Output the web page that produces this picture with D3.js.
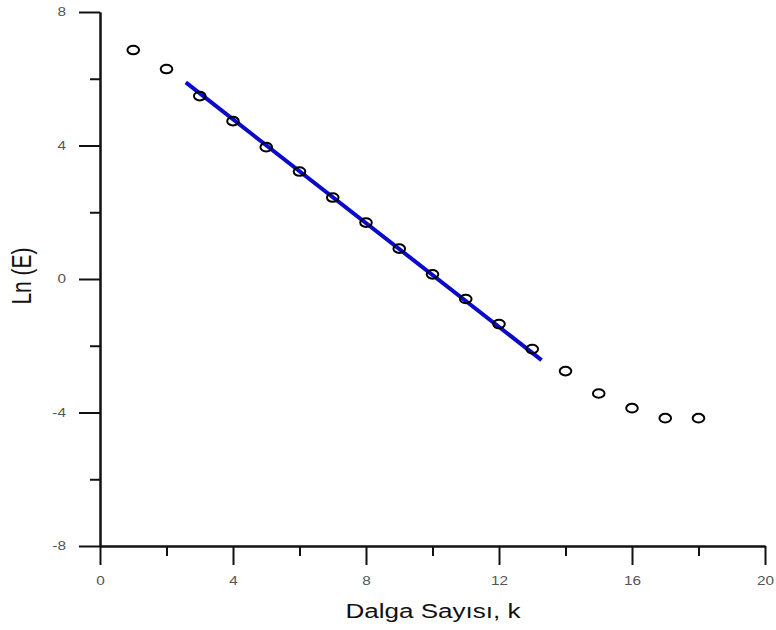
<!DOCTYPE html>
<html>
<head>
<meta charset="utf-8">
<script src="https://cdn.jsdelivr.net/npm/d3@7"></script>
<style>
  html, body { margin: 0; padding: 0; background: #fff; }
  svg { display: block; font-family: "Liberation Sans", Arial, sans-serif; }
</style>
</head>
<body>
<svg id="chart" width="776" height="630"></svg>
<script>
// Wave number and ln(energy) measurements
const waveNumbers = [1, 2, 3, 4, 5, 6, 7, 8, 9, 10, 11, 12, 13, 14, 15, 16, 17, 18];
const lnEnergy = [6.86, 6.29, 5.48, 4.73, 3.95, 3.22, 2.44, 1.69, 0.91, 0.14,
                  -0.60, -1.35, -2.10, -2.76, -3.43, -3.87, -4.17, -4.17];

// Straight-line fit across the inertial range
const fitK = [2.58, 13.28];
const fitLnE = [5.89, -2.43];

// Axis ticks
const xMajorTicks = [0, 4, 8, 12, 16, 20];
const xMinorTicks = [2, 6, 10, 14, 18];
const yMajorTicks = [-8, -4, 0, 4, 8];
const yMinorTicks = [-6, -2, 2, 6];

const svg = d3.select("#chart");

const x = d3.scaleLinear().domain([0, 20]).range([100, 765]);
const y = d3.scaleLinear().domain([-8, 8]).range([546, 12]);

const axisColor = "#111";
const textStretch = 1.28;        // wide-set lettering
const fmt = d => String(d);      // plain hyphen for negatives

// X axis
const gx = svg.append("g").attr("transform", `translate(0,${y(-8)})`);
gx.call(d3.axisBottom(x).tickValues(xMajorTicks).tickSize(19).tickSizeOuter(0).tickPadding(11).tickFormat(fmt));
gx.append("g").call(d3.axisBottom(x).tickValues(xMinorTicks).tickSize(10).tickSizeOuter(0).tickFormat(""));

// Y axis
const gy = svg.append("g").attr("transform", `translate(${x(0)},0)`);
gy.call(d3.axisLeft(y).tickValues(yMajorTicks).tickSize(21).tickSizeOuter(0).tickPadding(13).tickFormat(fmt));
gy.append("g").call(d3.axisLeft(y).tickValues(yMinorTicks).tickSize(10).tickSizeOuter(0).tickFormat(""));

svg.selectAll(".domain").attr("stroke", axisColor).attr("stroke-width", 2);
svg.selectAll(".tick line").attr("stroke", axisColor).attr("stroke-width", 2);
svg.selectAll(".tick text")
  .attr("fill", "#555")
  .style("font-size", "12px")
  .style("font-family", "\"Liberation Sans\", Arial, sans-serif");

gx.selectAll(".tick text")
  .attr("transform", `scale(${textStretch},1)`);
gy.selectAll(".tick text").each(function () {
  const t = d3.select(this);
  const tx = +t.attr("x");
  t.attr("x", tx / textStretch).attr("transform", `scale(${textStretch},1)`);
});

// Fitted line
svg.append("path")
  .datum(fitK.map((k, i) => [k, fitLnE[i]]))
  .attr("d", d3.line().x(d => x(d[0])).y(d => y(d[1])))
  .attr("fill", "none")
  .attr("stroke", "#0a0ac8")
  .attr("stroke-width", 4);

// Data markers
svg.append("g")
  .selectAll("ellipse")
  .data(waveNumbers.map((k, i) => [k, lnEnergy[i]]))
  .join("ellipse")
  .attr("cx", d => x(d[0]))
  .attr("cy", d => y(d[1]))
  .attr("rx", 5.8)
  .attr("ry", 4.3)
  .attr("fill", "none")
  .attr("stroke", "#000")
  .attr("stroke-width", 2);

// Axis titles
svg.append("text")
  .attr("transform", `translate(433,617.5) scale(${textStretch * 0.97},1)`)
  .attr("text-anchor", "middle")
  .style("font-size", "21px")
  .attr("fill", "#111")
  .text("Dalga Sayısı, k");

svg.append("text")
  .attr("transform", `translate(31,276) scale(${textStretch},1) rotate(-90)`)
  .attr("text-anchor", "middle")
  .style("font-size", "21px")
  .attr("fill", "#111")
  .text("Ln (E)");
</script>
</body>
</html>
